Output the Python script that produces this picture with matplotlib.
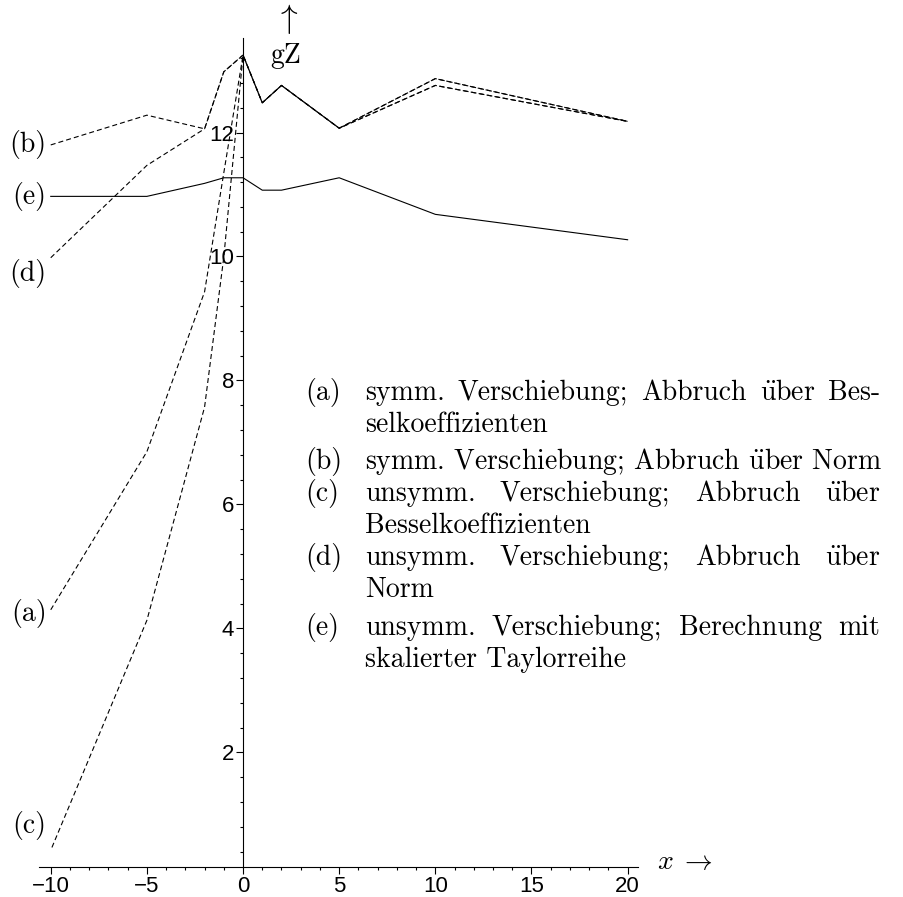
import matplotlib
matplotlib.use("Agg")
import matplotlib.pyplot as plt
from matplotlib.ticker import MultipleLocator

# values
x = [-10, -5, -2, -1, 0, 1, 2, 5, 10, 20]
ya = [4.30, 6.85, 9.43, 11.35, 13.25, 12.48, 12.76, 12.07, 12.76, 12.18]
yb = [11.80, 12.28, 12.06, 12.98, 13.25, 12.48, 12.76, 12.07, 12.87, 12.18]
yc = [0.42, 4.13, 7.57, 9.99, 13.25, 12.48, 12.76, 12.07, 12.76, 12.18]
yd = [9.98, 11.47, 12.06, 12.98, 13.25, 12.48, 12.76, 12.07, 12.87, 12.18]
ye = [10.97, 10.97, 11.18, 11.27, 11.27, 11.07, 11.07, 11.27, 10.68, 10.27]

tags = ["(a)", "(b)", "(c)", "(d)", "(e)"]
xticks = [-10, -5, 0, 5, 10, 15, 20]
yticks = [2, 4, 6, 8, 10, 12]

UE = r"$\ddot{\mathrm{u}}$"
legend_lines = [
    ("(a)", "symm. Verschiebung; Abbruch " + UE + "ber Bes-", True),
    ("", "selkoeffizienten", False),
    ("(b)", "symm. Verschiebung; Abbruch " + UE + "ber Norm", False),
    ("(c)", "unsymm. Verschiebung; Abbruch " + UE + "ber", True),
    ("", "Besselkoeffizienten", False),
    ("(d)", "unsymm. Verschiebung; Abbruch " + UE + "ber", True),
    ("", "Norm", False),
    ("(e)", "unsymm. Verschiebung; Berechnung mit", True),
    ("", "skalierter Taylorreihe", False),
]
legend_base = [400, 432, 469, 501, 533, 565, 597, 635, 667]

plt.rcParams["mathtext.fontset"] = "cm"
plt.rcParams["lines.scale_dashes"] = False
SERIF = "cmr10"
FS = 20

W, H = 904, 897
fig = plt.figure(figsize=(W / 100, H / 100), dpi=100)
ax = fig.add_axes([39.2 / W, (H - 866.7) / H, 599 / W, 829 / H])

dash = (3.6, 2.2)
ax.plot(x, ya, color="black", lw=0.8, linestyle=(0, dash))
ax.plot(x, yb, color="black", lw=0.8, linestyle=(0, dash))
# (c) shares the path with (a) on the right, offset dashes fill the gaps
ax.plot(x, yc, color="black", lw=0.8, linestyle=(3.6, dash))
ax.plot(x, yd, color="black", lw=0.8, linestyle=(0, dash))
ax.plot(x, ye, color="black", lw=0.8)

ax.set_xlim(-10.6, 20.55)
ax.set_ylim(0.155, 13.53)
ax.spines["left"].set_position(("data", 0))
ax.spines["top"].set_visible(False)
ax.spines["right"].set_visible(False)
for s in ("left", "bottom"):
    ax.spines[s].set_linewidth(0.8)

ax.set_xticks(xticks)
ax.set_yticks(yticks)
ax.xaxis.set_minor_locator(MultipleLocator(1))
ax.yaxis.set_minor_locator(MultipleLocator(0.4))
ax.tick_params(which="major", direction="out", length=5, width=0.8, pad=1.5,
               labelsize=16)
ax.tick_params(which="minor", direction="out", length=2.5, width=0.8)
for lab in ax.get_xticklabels() + ax.get_yticklabels():
    lab.set_family("Liberation Sans")

# labels at the start of each curve
offsets = [(-3, -3), (-3, 0), (-3, 18), (-3, -11.5), (-3, 0)]
for tag, ys, off in zip(tags, [ya, yb, yc, yd, ye], offsets):
    ax.annotate(tag, xy=(x[0], ys[0]), xytext=off, textcoords="offset points",
                ha="right", va="center", fontsize=FS, family=SERIF)


def px(xp, yp):
    return xp / W, 1 - yp / H


fig.text(*px(287, 19), r"$\uparrow$", fontsize=24, ha="center", va="center")
fig.text(*px(286, 63), "gZ", fontsize=FS, family=SERIF, ha="center", va="baseline")
fig.text(*px(657, 869), r"$x\;\rightarrow$", fontsize=FS, ha="left", va="baseline")

# legend block, justified like the original
renderer = fig.canvas.get_renderer()
X0, X1 = 365, 880
for (tag, line, justify), yb_ in zip(legend_lines, legend_base):
    if tag:
        fig.text(*px(305, yb_), tag, fontsize=FS, family=SERIF, va="baseline")
    if not justify:
        fig.text(*px(X0, yb_), line, fontsize=FS, family=SERIF, va="baseline")
        continue
    words = line.split(" ")
    objs = [fig.text(0, 0, w_, fontsize=FS, family=SERIF, va="baseline") for w_ in words]
    widths = [o.get_window_extent(renderer).width for o in objs]
    gap = (X1 - X0 - sum(widths)) / (len(words) - 1)
    xp = X0
    for o, wd in zip(objs, widths):
        o.set_position(px(xp, yb_))
        xp += wd + gap

fig.savefig("out.png", dpi=100)
